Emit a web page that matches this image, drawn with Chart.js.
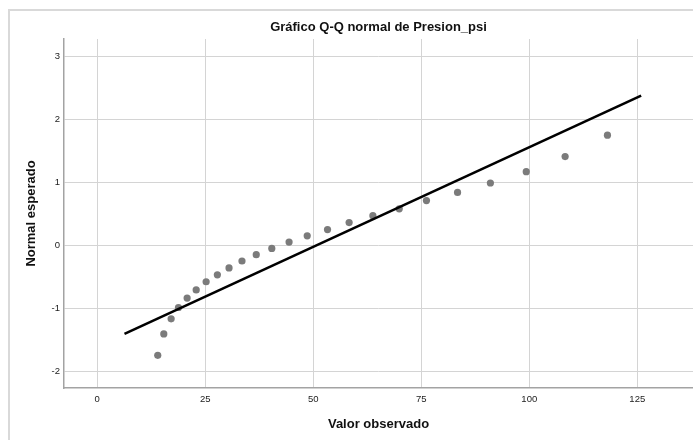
<!DOCTYPE html>
<html>
<head>
<meta charset="utf-8">
<title>Gráfico Q-Q normal de Presion_psi</title>
<script src="https://cdn.jsdelivr.net/npm/chart.js@4.4.1/dist/chart.umd.min.js"></script>
<style>
    html, body { margin: 0; padding: 0; background: #fff; overflow: hidden; }
    #wrap { position: relative; width: 693px; height: 440px; overflow: hidden; }
    #frame {
        position: absolute; left: 8px; top: 9px; width: 800px; height: 500px;
        border-left: 2px solid #d9d9d9; border-top: 2px solid #d9d9d9;
    }
    /* 4 px más ancho: Chart.js deja un margen a la derecha que se recorta */
    #qq { position: absolute; left: 0; top: 0; }
</style>
</head>
<body>
<div id="wrap">
    <div id="frame"></div>
    <canvas id="qq" width="697" height="440"></canvas>
</div>
<script>
// Valores (Presion_psi)
const observed = [14.0, 15.4, 17.1, 18.8, 20.8, 22.9, 25.2, 27.8, 30.5, 33.5, 36.8, 40.4,
                  44.4, 48.6, 53.3, 58.3, 63.8, 69.9, 76.2, 83.4, 91.0, 99.3, 108.3, 118.1];
const expected = [-1.75, -1.41, -1.17, -0.99, -0.84, -0.71, -0.58, -0.47, -0.36, -0.25, -0.15, -0.05,
                  0.05, 0.15, 0.25, 0.36, 0.47, 0.58, 0.71, 0.84, 0.99, 1.17, 1.41, 1.75];
// Recta de referencia normal
const refLineX = [6.3, 125.9];
const refLineY = [-1.41, 2.38];
// Marcas de los ejes
const xTicks = [0, 25, 50, 75, 100, 125];
const yTicks = [-2, -1, 0, 1, 2, 3];

const FONT = "'Liberation Sans', Arial, sans-serif";

document.addEventListener('DOMContentLoaded', function() {
    const ctx = document.getElementById('qq');

    const points = observed.map((x, i) => ({ x: x, y: expected[i] }));
    const refLine = refLineX.map((x, i) => ({ x: x, y: refLineY[i] }));

    new Chart(ctx, {
        type: 'scatter',
        data: {
            datasets: [{
                label: 'Observado',
                data: points,
                xAxisID: 'x',
                yAxisID: 'y',
                backgroundColor: '#7b7b7b',
                borderWidth: 0,
                pointRadius: 3.6,
                order: 2
            }, {
                label: 'Referencia',
                data: refLine,
                xAxisID: 'x',
                yAxisID: 'y',
                showLine: true,
                borderColor: '#000',
                borderWidth: 2.6,
                pointRadius: 0,
                order: 1
            }]
        },
        options: {
            responsive: false,
            animation: false,
            layout: { padding: 0 },
            plugins: {
                legend: { display: false },
                tooltip: { enabled: false },
                title: { display: false }
            },
            scales: {
                x: {
                    type: 'linear',
                    position: 'bottom',
                    min: -7.7,
                    max: 137.9,
                    afterBuildTicks(scale) { scale.ticks = xTicks.map(v => ({ value: v })); },
                    afterFit(scale) { scale.height = 52; },
                    grid: { color: '#d4d4d4', lineWidth: 1, drawTicks: false },
                    border: { color: '#a3a3a3', width: 1.5 },
                    ticks: {
                        color: '#222',
                        padding: 6,
                        font: { family: FONT, size: 9.5 }
                    },
                    title: {
                        display: true,
                        text: 'Valor observado',
                        color: '#111',
                        font: { family: FONT, size: 13, weight: 'bold' },
                        padding: { top: 0, bottom: 8 }
                    }
                },
                y: {
                    type: 'linear',
                    position: 'left',
                    min: -2.27,
                    max: 3.28,
                    afterBuildTicks(scale) { scale.ticks = yTicks.map(v => ({ value: v })); },
                    afterFit(scale) { scale.width = 64; },
                    grid: { color: '#d4d4d4', lineWidth: 1, drawTicks: false },
                    border: { color: '#a3a3a3', width: 1.5 },
                    ticks: {
                        color: '#222',
                        padding: 4,
                        font: { family: FONT, size: 9.5 }
                    },
                    title: {
                        display: true,
                        text: 'Normal esperado',
                        color: '#111',
                        font: { family: FONT, size: 13, weight: 'bold' },
                        padding: { top: 24, bottom: 0 }
                    }
                },
                // eje superior solo para el título, centrado sobre el área del gráfico
                top: {
                    type: 'linear',
                    position: 'top',
                    min: 0,
                    max: 1,
                    grid: { display: false },
                    border: { display: false },
                    ticks: { display: false },
                    title: {
                        display: true,
                        text: 'Gráfico Q-Q normal de Presion_psi',
                        color: '#111',
                        font: { family: FONT, size: 13, weight: 'bold' },
                        padding: { top: 20, bottom: 0 }
                    },
                    afterFit(scale) { scale.height = 39; }
                }
            }
        }
    });
});
</script>
</body>
</html>
